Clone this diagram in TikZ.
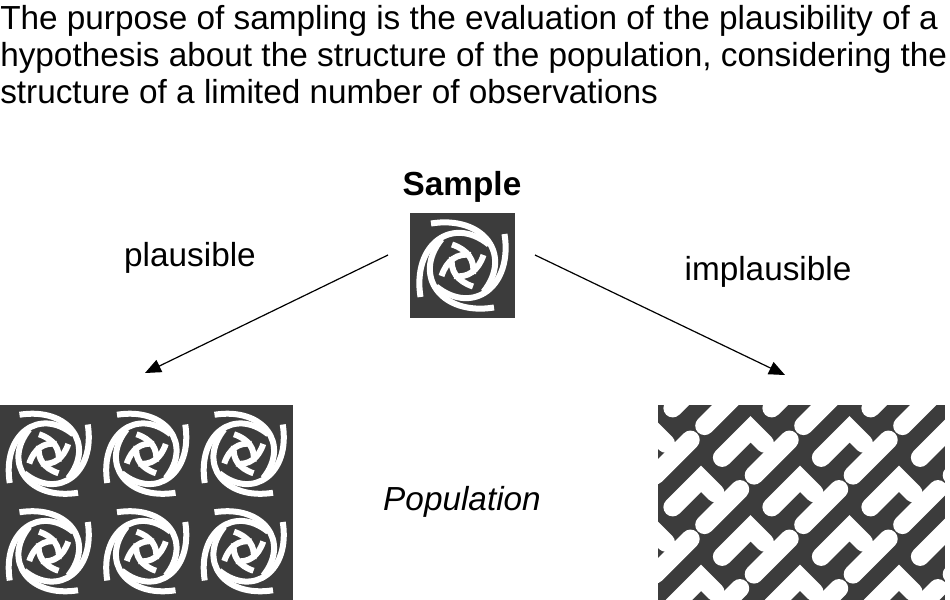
\documentclass[tikz,border=0pt]{standalone}
\usepackage{fontspec}
\setmainfont{Liberation Sans}
\usetikzlibrary{arrows.meta}
\definecolor{tiledark}{RGB}{60,60,60}
% one knot tile, origin at its top-left corner, size 100 units
\newcommand{\knottile}[3]{%
  \begin{scope}[shift={(#1,#2)}, scale=#3]
    \fill[tiledark] (0,0) rectangle (100,100);
    \foreach \r in {0,90,180,270} {
      \draw[white, line width=4.5, rotate around={\r:(50,50)}]
        (10,80) .. controls (2,30) and (40,2) .. (75,30);
      \draw[white, line width=4.5, rotate around={\r:(50,50)}]
        (30,60) .. controls (35,45) and (45,38) .. (58,40);
    }
  \end{scope}}
\begin{document}
\begin{tikzpicture}[
    x=0.75pt, y=-0.75pt,
    txt/.style={font=\fontsize{25}{30}\selectfont, inner sep=0pt},
    arrow/.style={-{Triangle[length=12, width=10]}, line width=0.9}
  ]
  \useasboundingbox (0,0) rectangle (950,600);
  % Heading
  \node[txt, anchor=base west] (line1) at (0,29) {The purpose of sampling is the evaluation of the plausibility of a};
  \node[txt, anchor=base west] (line2) at (0,66) {hypothesis about the structure of the population, considering the};
  \node[txt, anchor=base west] (line3) at (0,103) {structure of a limited number of observations};

  % Sample
  \node[txt, font=\fontsize{25}{30}\selectfont\bfseries] (sample) at (462,187) {Sample};
  \knottile{410}{213}{1.05}
  \coordinate (sampleL) at (388,255);
  \coordinate (sampleR) at (535,255);

  % Labels
  \node[txt] (plaus) at (190,258) {plausible};
  \node[txt] (implaus) at (768,272) {implausible};
  \node[txt, font=\fontsize{25}{30}\selectfont\itshape] (population) at (462,502) {Population};

  % Populations
  \coordinate (popL) at (145,373);
  \coordinate (popR) at (785,375);
  \foreach \i in {0,1,2} {
    \foreach \j in {0,1} {
      \knottile{\i*97.5}{405+\j*97.5}{0.975}
    }
  }
  \begin{scope}
    \clip (658,405) rectangle (945,600);
    \fill[tiledark] (658,405) rectangle (945,600);
    \begin{scope}[shift={(800,500)}, rotate=45]
      \foreach \i in {-4,...,4} {
        \foreach \j in {-4,...,4} {
          \draw[white, line width=14, line cap=round, shift={(\i*70,\j*70)}]
            (-25,-15) -- (15,-15) -- (15,5);
          \draw[white, line width=14, line cap=round, shift={(\i*70,\j*70)}]
            (-15,20) -- (35,20);
        }
      }
    \end{scope}
  \end{scope}

  % Connections
  \draw[arrow] (sampleL) -- (popL);
  \draw[arrow] (sampleR) -- (popR);
\end{tikzpicture}
\end{document}
